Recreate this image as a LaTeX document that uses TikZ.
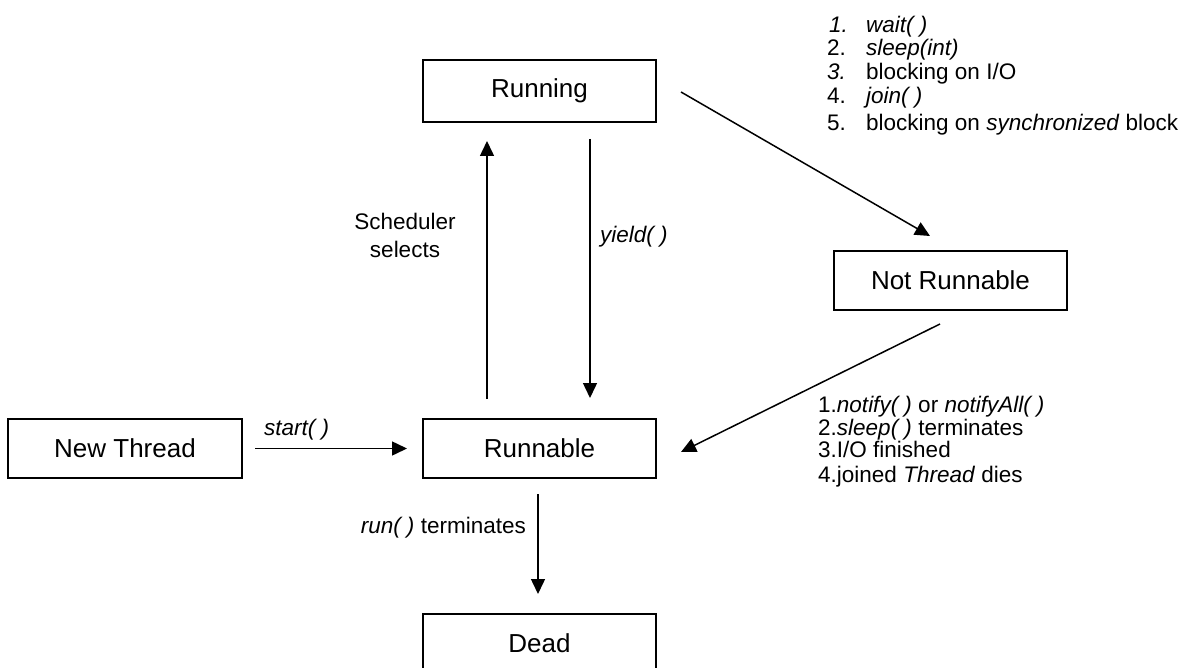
\documentclass[tikz,border=0pt]{standalone}
\usepackage{fontspec}
\setmainfont{Liberation Sans}
\usetikzlibrary{arrows.meta}
\tikzset{
  statebox/.style={draw, line width=2pt, minimum width=233pt, minimum height=59pt, inner sep=0pt, font=\fontsize{26}{30}\selectfont},
  conn/.style={line width=1.5pt, -{Triangle[length=15pt,width=14pt]}},
  lbl/.style={inner sep=0pt, font=\fontsize{22.5}{28}\selectfont},
}
\begin{document}
\begin{tikzpicture}[x=1pt,y=-1pt]
\useasboundingbox (0,0) rectangle (1185,668);
% states
\node[statebox, minimum height=62pt] (running) at (539.5,91) {Running};
\node[statebox, minimum height=58pt] (notrun) at (950.5,280.5) {Not Runnable};
\node[statebox, minimum width=234pt] (newthread) at (125,448.5) {New Thread};
\node[statebox] (runnable) at (539.5,448.5) {Runnable};
\node[statebox] (dead) at (539.5,643.5) {Dead};
% connectors
\draw[conn, shorten <=12pt, shorten >=15pt] (newthread.east) -- (runnable.west);
\draw[conn, shorten <=19pt, shorten >=18pt] ([xshift=-52.5pt]runnable.north) -- ([xshift=-52.5pt]running.south);
\draw[conn, shorten <=16pt, shorten >=20pt] ([xshift=50.5pt]running.south) -- ([xshift=50.5pt]runnable.north);
\draw[conn, shorten <=15pt, shorten >=19pt] ([xshift=-1.5pt]runnable.south) -- ([xshift=-1.5pt]dead.north);
\draw[conn] ([xshift=24pt,yshift=-1pt]running.east) -- ([xshift=-20.5pt,yshift=14.5pt]notrun.north);
\draw[conn] ([xshift=-10.5pt,yshift=-13.5pt]notrun.south) -- ([xshift=24pt,yshift=-3.5pt]runnable.east);
% labels
\node[lbl, anchor=base west] (lstart) at (264,435) {\textit{start( )}};
\node[lbl, anchor=base] (lsched1) at (405,230) {Scheduler};
\node[lbl, anchor=base] (lsched2) at (405,258) {selects};
\node[lbl, anchor=base west] (lyield) at (600,243) {\textit{yield( )}};
\node[lbl, anchor=base east] (lrun) at (526,533) {\textit{run( )} terminates};
% blocking list
\node[lbl, anchor=base west] (n1) at (829,33) {\textit{1.}};
\node[lbl, anchor=base west] (t1) at (866,33) {\textit{wait( )}};
\node[lbl, anchor=base west] (n2) at (827,56) {2.};
\node[lbl, anchor=base west] (t2) at (866,56) {\textit{sleep(int)}};
\node[lbl, anchor=base west] (n3) at (827,80) {\textit{3.}};
\node[lbl, anchor=base west] (t3) at (866,80) {blocking on I/O};
\node[lbl, anchor=base west] (n4) at (827,104) {4.};
\node[lbl, anchor=base west] (t4) at (866,104) {\textit{join( )}};
\node[lbl, anchor=base west] (n5) at (827,131) {5.};
\node[lbl, anchor=base west] (t5) at (866,131) {blocking on \textit{synchronized} block};
% unblocking list
\node[lbl, anchor=base west] (u1) at (818,412) {1.\textit{notify( )} or \textit{notifyAll( )}};
\node[lbl, anchor=base west] (u2) at (818,435) {2.\textit{sleep( )} terminates};
\node[lbl, anchor=base west] (u3) at (818,457) {3.I/O finished};
\node[lbl, anchor=base west] (u4) at (818,482) {4.joined \textit{Thread} dies};
\end{tikzpicture}
\end{document}
